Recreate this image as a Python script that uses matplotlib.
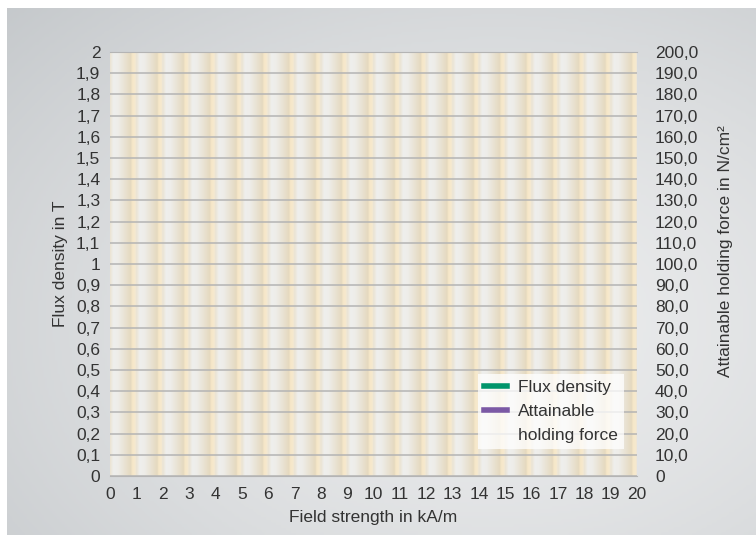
import numpy as np
import matplotlib
matplotlib.use("Agg")
import matplotlib.pyplot as plt
from matplotlib.colors import LinearSegmentedColormap
from matplotlib.lines import Line2D

# chart has no curves drawn, only the legend entries
field_strength = []   # kA/m
flux_density = []     # T
holding_force = []    # N/cm2

x_ticks = list(range(0, 21))
y_left_ticks = [round(0.1 * i, 1) for i in range(21)]
y_left_labels = [f"{v:g}".replace(".", ",") for v in y_left_ticks]
y_right_ticks = list(range(0, 201, 10))
y_right_labels = ["0" if v == 0 else f"{v:.1f}".replace(".", ",") for v in y_right_ticks]

series_names = ["Flux density", "Attainable", "holding force"]
series_colors = ["#00956a", "#7b59a5", "none"]

plt.rcParams["font.family"] = ["Liberation Sans", "DejaVu Sans"]
TXT = "#333333"
FS = 12.5

W, H = 756, 535
fig = plt.figure(figsize=(W / 100, H / 100), dpi=100)
fig.patch.set_facecolor("white")

# grey gradient panel behind everything
bg = fig.add_axes([7 / W, 0, 1 - 7 / W, 1 - 8 / H], zorder=-10)
gy, gx = np.mgrid[0:1:200j, 0:1:300j]
d = np.sqrt(((gx - 0.65) / 0.85) ** 2 + ((gy - 0.6) / 0.85) ** 2)
shade = np.clip(1 - 0.6 * d ** 1.5, 0, 1)
grey = LinearSegmentedColormap.from_list("g", ["#b0b5b9", "#ebeced"])
bg.imshow(shade, cmap=grey, vmin=0, vmax=1, aspect="auto", extent=(0, 1, 0, 1), origin="upper")
bg.axis("off")

# plot area
L, R, T, B = 110, 637, 52, 476
ax = fig.add_axes([L / W, 1 - B / H, (R - L) / W, (B - T) / H])
ax.set_xlim(0, 20)
ax.set_ylim(0, 2)

# vertical stripes: each unit column fades from light grey to beige with a cream edge
prof = LinearSegmentedColormap.from_list(
    "s", [(0.0, "#ebe4d4"), (0.12, "#efefed"), (0.3, "#eeede9"), (0.8, "#e5d9bf"),
          (0.86, "#f6e7c8"), (0.97, "#f6e9cf"), (1.0, "#ede6d6")])
col = np.tile(np.linspace(0, 1, 40), 20)[None, :]
ax.imshow(col, cmap=prof, aspect="auto", extent=(0, 20, 0, 2), zorder=0)

ax.set_yticks(y_left_ticks)
ax.set_yticklabels(y_left_labels)
ax.set_xticks(x_ticks)
ax.set_xticklabels([str(v) for v in x_ticks])
ax.grid(axis="y", color="#b4b4b4", linewidth=1.1, zorder=1)
ax.set_axisbelow(False)
ax.tick_params(length=0, labelsize=FS, colors=TXT, pad=7)
ax.tick_params(axis="x", pad=8)
for s in ax.spines.values():
    s.set_visible(False)
for side in ["top", "bottom"]:
    ax.spines[side].set_visible(True)
    ax.spines[side].set_color("#b4b4b4")

ax.plot(field_strength, flux_density, color=series_colors[0], lw=3)

ax2 = ax.twinx()
ax2.set_ylim(0, 200)
ax2.set_yticks(y_right_ticks)
ax2.set_yticklabels(y_right_labels)
ax2.tick_params(length=0, labelsize=FS, colors=TXT, pad=13)
for s in ax2.spines.values():
    s.set_visible(False)
ax2.plot(field_strength, holding_force, color=series_colors[1], lw=3)

ax.set_xlabel("Field strength in kA/m", fontsize=FS, color=TXT, labelpad=6)
ax.set_ylabel("Flux density in T", fontsize=FS, color=TXT, labelpad=6)
ax2.set_ylabel("Attainable holding force in N/cm²", fontsize=FS, color=TXT)
ax2.yaxis.set_label_coords(1.154, 0.53)

handles = [Line2D([], [], color=c, lw=4) for c in series_colors]
leg = ax2.legend(handles, series_names, loc="lower right", bbox_to_anchor=(0.975, 0.064),
                 frameon=True, fancybox=False, fontsize=FS, handlelength=1.3,
                 handletextpad=0.65, borderpad=0.35, labelspacing=0.5, borderaxespad=0)
leg.get_frame().set_facecolor("white")
leg.get_frame().set_alpha(0.75)
leg.get_frame().set_linewidth(0)
for t in leg.get_texts():
    t.set_color(TXT)

fig.savefig("out.png", dpi=100)
